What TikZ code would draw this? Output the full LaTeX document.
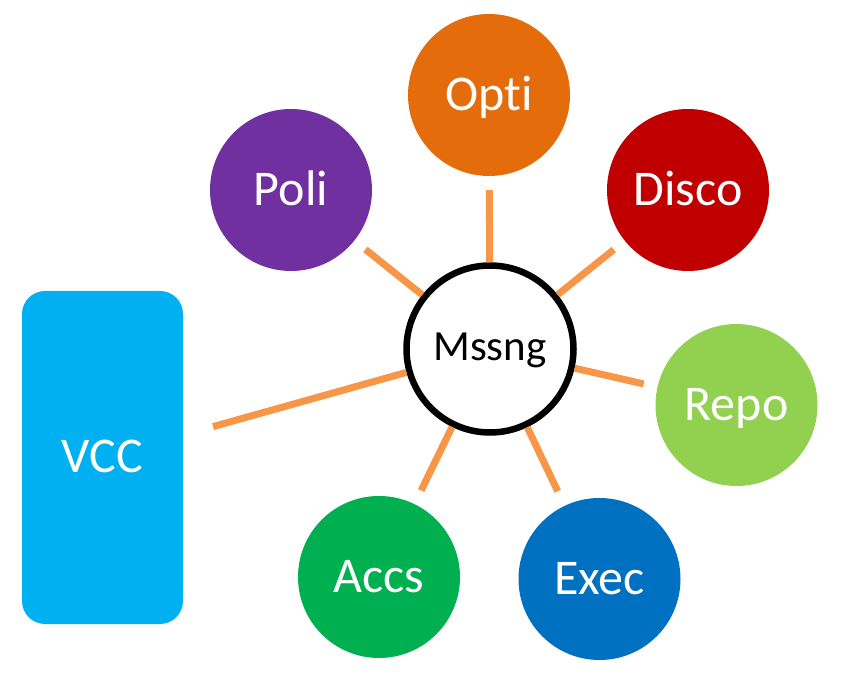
\documentclass[tikz,border=0pt]{standalone}
\usepackage{fontspec}
\setmainfont[Ligatures={NoCommon}]{Carlito}
\definecolor{optic}{HTML}{E46C0A}
\definecolor{polic}{HTML}{7030A0}
\definecolor{discoc}{HTML}{C00000}
\definecolor{repoc}{HTML}{92D050}
\definecolor{execc}{HTML}{0070C0}
\definecolor{accsc}{HTML}{00B050}
\definecolor{vccc}{HTML}{00B0F0}
\definecolor{linkc}{HTML}{F79646}
\begin{document}
\begin{tikzpicture}[x=1pt,y=-1pt,
  sat/.style={circle, fill=#1, minimum size=162pt, inner sep=0pt, text=white,
    font=\fontsize{50}{50}\selectfont, text height=31pt, text depth=0pt},
  hub/.style={circle, draw=black, line width=6.5pt, fill=white, minimum size=167pt,
    inner sep=0pt, font=\fontsize{43}{43}\selectfont, text height=24pt, text depth=0pt},
  slab/.style={rectangle, rounded corners=23pt, fill=vccc, minimum width=161pt,
    minimum height=333pt, inner sep=0pt, text=white,
    font=\fontsize{50}{50}\selectfont, text height=31pt, text depth=0pt},
  link/.style={draw=linkc, line width=7pt, shorten >=14pt}]
\useasboundingbox (0,0) rectangle (868,684);
\node[hub] (m) at (490,349) {Mssng};
\node[sat=optic] (opti) at (489,95) {Opti};
\node[sat=polic] (poli) at (291,190) {Poli};
\node[sat=discoc] (disco) at (688,190) {Disco};
\node[sat=repoc] (repo) at (736.5,405) {Repo};
\node[sat=execc] (exec) at (599.5,579) {Exec};
\node[sat=accsc] (accs) at (379,577) {Accs};
\node[slab] (vcc) at (102.5,457.5) {VCC};
\draw[link] (m) -- (opti);
\draw[link] (m) -- (poli);
\draw[link] (m) -- (disco);
\draw[link] (m) -- (repo);
\draw[link, shorten >=16pt] (m) -- (exec);
\draw[link, shorten >=15pt] (m) -- (accs);
\draw[link, shorten >=0pt, shorten <=31pt] (vcc) -- (m);
\end{tikzpicture}
\end{document}
